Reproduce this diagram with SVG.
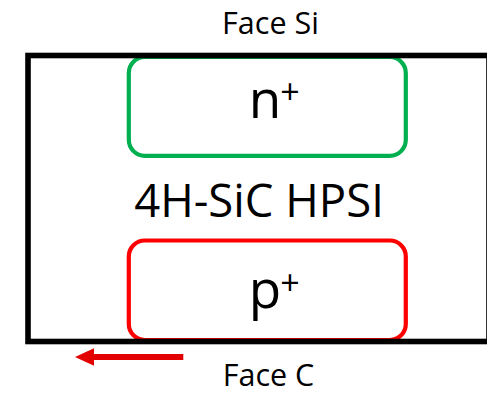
<svg xmlns="http://www.w3.org/2000/svg" width="487" height="393" viewBox="0 0 487 393">
  <defs>
    <style>
      .lbl { font-family: "Open Sans", "Liberation Sans", sans-serif; fill: #000; }
      .face { font-size: 30.5px; text-anchor: middle; }
      .main { font-size: 45.5px; text-anchor: middle; }
      .dop { font-size: 53px; }
      .sup { font-size: 34px; text-anchor: middle; }
      .region { fill: none; stroke-width: 4.2; }
    </style>
    <marker id="arrowhead" viewBox="0 0 19 17.4" markerUnits="userSpaceOnUse" markerWidth="19" markerHeight="17.4" refX="0" refY="8.7" orient="auto">
      <path d="M0,0 L19,8.7 L0,17.4 z" fill="#E30000"/>
    </marker>
  </defs>
  <rect x="0" y="0" width="487" height="393" fill="#fff"/>

  <g id="n-region">
    <rect class="region" x="128.8" y="57" width="277" height="98.8" rx="16" ry="16" stroke="#00B050"/>
    <text class="lbl dop" x="248.8" y="117.5">n</text>
    <text class="lbl sup" x="290" y="104">+</text>
  </g>

  <g id="p-region">
    <rect class="region" x="128.8" y="240.5" width="277" height="99.5" rx="16" ry="16" stroke="#FF0000"/>
    <text class="lbl dop" x="248.8" y="307.5">p</text>
    <text class="lbl sup" x="290" y="295">+</text>
  </g>

  <g id="substrate">
    <rect x="28" y="55.5" width="461" height="286" fill="none" stroke="#000" stroke-width="5.6"/>
    <text class="lbl main" x="259" y="216.7">4H-SiC HPSI</text>
  </g>

  <g id="face-si">
    <text class="lbl face" x="270.5" y="34.3">Face Si</text>
  </g>

  <g id="face-c">
    <text class="lbl face" x="268.5" y="385.5">Face C</text>
  </g>

  <g id="connectors">
    <line x1="183.3" y1="357" x2="94" y2="357" stroke="#E30000" stroke-width="6" marker-end="url(#arrowhead)"/>
  </g>
</svg>
